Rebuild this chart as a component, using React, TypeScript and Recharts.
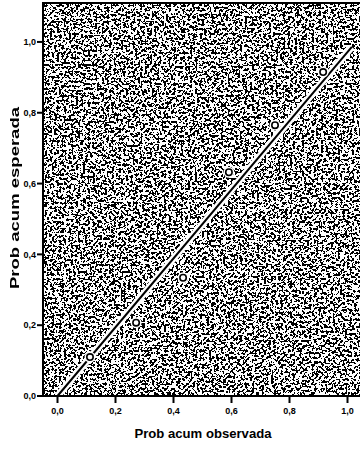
import React from 'react';
import { ScatterChart, Scatter, XAxis, YAxis, ReferenceArea, ReferenceLine, CartesianGrid } from 'recharts';

const observed = [0.112, 0.271, 0.433, 0.591, 0.75, 0.916];
const expected = [0.11, 0.207, 0.334, 0.632, 0.765, 0.915];
const tickValues = [0, 0.2, 0.4, 0.6, 0.8, 1.0];
const diagonalEnd = { x: 1.015, y: 0.986 };
const xTitle = 'Prob acum observada';
const yTitle = 'Prob acum esperada';
const xDomain: [number, number] = [-0.05, 1.05];
const yDomain: [number, number] = [0, 1.11];

const points = observed.map((x, i) => ({ x, y: expected[i] }));
const fmt = (v: number) => v.toFixed(1).replace('.', ',');

const FONT = '"Liberation Sans", Arial, sans-serif';

const Dot = (p: any) => {
  const cx = p.cx ?? (p.x + (p.width || 0) / 2);
  const cy = p.cy ?? (p.y + (p.height || 0) / 2);
  return (
    <g>
      <circle cx={cx} cy={cy} r={5.5} fill="#fff" />
      <circle cx={cx} cy={cy} r={3.2} fill="#fff" stroke="#000" strokeWidth={1.6} />
    </g>
  );
};

const XTitle = (p: any) => {
  const vb = p.viewBox;
  return (
    <text x={203} y={vb.y + 42} textAnchor="middle" fontFamily={FONT} fontWeight="bold" fontSize={13}
      textLength={137} lengthAdjust="spacingAndGlyphs" style={{ fill: '#000' }}>{xTitle}</text>
  );
};

const YTitle = () => (
  <g transform="translate(19,198) rotate(-90)" filter="url(#noop)">
    <text x={0} y={0} textAnchor="middle" fontFamily={FONT} fontWeight="bold" fontSize={13}
      textLength={182} lengthAdjust="spacingAndGlyphs" style={{ fill: '#000' }}>{yTitle}</text>
  </g>
);

export default function App() {
  return (
    <div style={{ position: 'absolute', left: 0, top: 0, width: 360, height: 450, overflow: 'hidden', background: '#fff' }}>
      <svg width={0} height={0} style={{ position: 'absolute' }}>
        <defs>
          <filter id="stip" x="0" y="0" width="100%" height="100%" filterUnits="objectBoundingBox">
            <feTurbulence type="fractalNoise" baseFrequency="0.42" numOctaves={2} seed={11} result="t" />
            <feColorMatrix in="t" type="matrix" values="0 0 0 0 0  0 0 0 0 0  0 0 0 0 0  1 0 0 0 -0.025" result="a" />
            <feComponentTransfer in="a">
              <feFuncA type="discrete" tableValues="0 1" />
            </feComponentTransfer>
          </filter>
          <filter id="noop" x="-10%" y="-50%" width="120%" height="200%">
            <feOffset dx={0} dy={0} />
          </filter>
          <pattern id="stipPat" patternUnits="userSpaceOnUse" x={0} y={0} width={400} height={460}>
            <rect x={0} y={0} width={400} height={460} fill="#000" filter="url(#stip)" />
          </pattern>
        </defs>
      </svg>
      <ScatterChart width={362} height={450} margin={{ top: 3, right: 0, bottom: 0, left: 0 }}>
        <CartesianGrid horizontal={false} vertical={false} fill="url(#stipPat)" fillOpacity={1} stroke="none" />
        <XAxis type="number" dataKey="x" domain={xDomain} ticks={tickValues} allowDataOverflow
          tickFormatter={fmt} height={54} tickSize={7} tickMargin={5}
          axisLine={{ stroke: '#000', strokeWidth: 2 }} tickLine={{ stroke: '#000', strokeWidth: 2 }}
          tick={{ fill: '#000', fontSize: 9, fontWeight: 'bold', fontFamily: FONT }}
          label={{ content: XTitle }} />
        <YAxis type="number" dataKey="y" domain={yDomain} ticks={tickValues} allowDataOverflow
          tickFormatter={fmt} width={43} tickSize={6} tickMargin={1}
          axisLine={{ stroke: '#000', strokeWidth: 2 }} tickLine={{ stroke: '#000', strokeWidth: 2 }}
          tick={{ fill: '#000', fontSize: 9, fontWeight: 'bold', fontFamily: FONT }}
          label={{ content: YTitle }} />
        <ReferenceArea x1={xDomain[0]} x2={xDomain[1]} y1={yDomain[0]} y2={yDomain[1]} fill="none" fillOpacity={0}
          stroke="#000" strokeWidth={2} ifOverflow="visible" />
        <ReferenceLine segment={[{ x: 0, y: 0 }, diagonalEnd]} stroke="#fff" strokeWidth={7} ifOverflow="visible" />
        <ReferenceLine segment={[{ x: 0, y: 0 }, diagonalEnd]} stroke="#000" strokeWidth={2} ifOverflow="visible" />
        <Scatter data={points} dataKey="y" shape={Dot} isAnimationActive={false} />
      </ScatterChart>
    </div>
  );
}
